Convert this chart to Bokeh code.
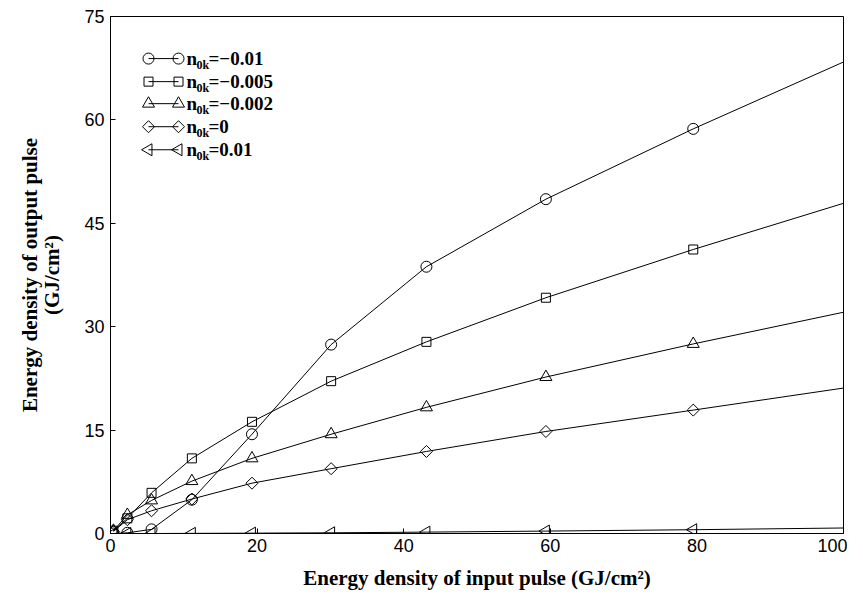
import numpy as np
from bokeh.plotting import figure
from bokeh.models import Range1d, FixedTicker
from bokeh.core.properties import value
from bokeh.embed import file_html
from bokeh.resources import INLINE

# ---------------- data ----------------
x_in = [0.4, 2.3, 5.6, 11.1, 19.3, 30.1, 43.1, 59.4, 79.5]
x_edge = 100.0  # curves continue to the right edge without a marker

y_m0010 = [0.0, 0.1, 0.6, 4.9, 14.4, 27.4, 38.7, 48.5, 58.7]
y_m0010_edge = 68.4
y_m0005 = [0.4, 2.2, 5.9, 10.9, 16.2, 22.1, 27.8, 34.2, 41.2]
y_m0005_edge = 47.9
y_m0002 = [0.4, 2.7, 4.8, 7.6, 10.9, 14.4, 18.3, 22.7, 27.5]
y_m0002_edge = 32.1
y_0000 = [0.3, 2.0, 3.3, 5.0, 7.3, 9.4, 11.9, 14.8, 17.9]
y_0000_edge = 21.1
y_p0010 = [0.0, 0.0, 0.0, 0.02, 0.05, 0.1, 0.2, 0.35, 0.55]
y_p0010_edge = 0.8

legend_values = ["=\u22120.01", "=\u22120.005", "=\u22120.002", "=0", "=0.01"]

x_ticks = [0, 20, 40, 60, 80, 100]
y_ticks = [0, 15, 30, 45, 60, 75]

# ---------------- figure ----------------
p = figure(width=847, height=592, output_backend="svg", toolbar_location=None,
           x_range=Range1d(0, 100), y_range=Range1d(0, 75),
           min_border_left=110, min_border_right=4, min_border_top=16,
           min_border_bottom=56)
p.grid.visible = False
p.outline_line_color = "black"
p.outline_line_width = 1
p.background_fill_color = "white"
p.border_fill_color = "white"

serif = "Liberation Serif"
sans = "Liberation Sans"

for ax in (p.xaxis[0], p.yaxis[0]):
    ax.axis_line_color = "black"
    ax.major_tick_in = 5
    ax.major_tick_out = 0
    ax.minor_tick_in = 0
    ax.minor_tick_out = 0
    ax.major_label_text_font = sans
    ax.major_label_text_font_size = "18px"
    ax.major_label_text_color = "black"
    ax.axis_label_text_font = serif
    ax.axis_label_text_font_style = "bold"
    ax.axis_label_text_font_size = "21px"
    ax.axis_label_text_color = "black"

p.xaxis.ticker = FixedTicker(ticks=x_ticks)
p.yaxis.ticker = FixedTicker(ticks=y_ticks)
p.xaxis.major_label_standoff = 5
p.yaxis.major_label_standoff = 6
p.xaxis.axis_label = "Energy density of input pulse (GJ/cm\u00b2)"
p.xaxis.axis_label_standoff = 11
p.yaxis.axis_label = "Energy density of output pulse\n(GJ/cm\u00b2)"
p.yaxis.axis_label_text_line_height = 0.95
p.yaxis.axis_label_standoff = 17

series = [
    (y_m0010, y_m0010_edge, "circle", 0.0, 11),
    (y_m0005, y_m0005_edge, "square", 0.0, 9),
    (y_m0002, y_m0002_edge, "triangle", 0.0, 12),
    (y_0000, y_0000_edge, "square", np.pi / 4, 8.5),
    (y_p0010, y_p0010_edge, "triangle", np.pi / 2, 12),
]

for ys, y_edge, marker, ang, size in series:
    p.line(x_in + [x_edge], ys + [y_edge], line_color="black", line_width=1)
    p.scatter(x_in, ys, marker=marker, angle=ang, size=size,
              fill_color=None, line_color="black", line_width=1)

# ---------------- legend (gnuplot style: marker at both ends) ----------------
# layout constants in page pixels converted to data units
px0, px100 = 110.0, 843.0
py0, py75 = 533.0, 17.0


def dx(px):
    return (px - px0) / (px100 - px0) * 100.0


def dy(py):
    return (py0 - py) / (py0 - py75) * 75.0


row_py = [59, 82, 104, 127, 150]
lx0, lx1, tx = dx(148), dx(178), dx(186)
for (ys, y_edge, marker, ang, size), py, lab in zip(series, row_py, legend_values):
    yy = dy(py)
    p.line([lx0, lx1], [yy, yy], line_color="black", line_width=1)
    p.scatter([lx0, lx1], [yy, yy], marker=marker, angle=ang, size=size,
              fill_color=None, line_color="black", line_width=1)
    p.text(x=[tx], y=[yy], text=["n"], text_font=value(serif),
           text_font_style="bold", text_font_size="19px",
           text_baseline="middle", text_align="left", text_color="black")
    p.text(x=[tx], y=[yy], text=["0k"], x_offset=10, y_offset=6,
           text_font=value(serif), text_font_style="bold",
           text_font_size="12px", text_baseline="middle",
           text_align="left", text_color="black")
    p.text(x=[tx], y=[yy], text=[lab], x_offset=22, text_font=value(serif),
           text_font_style="bold", text_font_size="19px",
           text_baseline="middle", text_align="left", text_color="black")

open("out.html", "w").write(file_html(p, INLINE))
